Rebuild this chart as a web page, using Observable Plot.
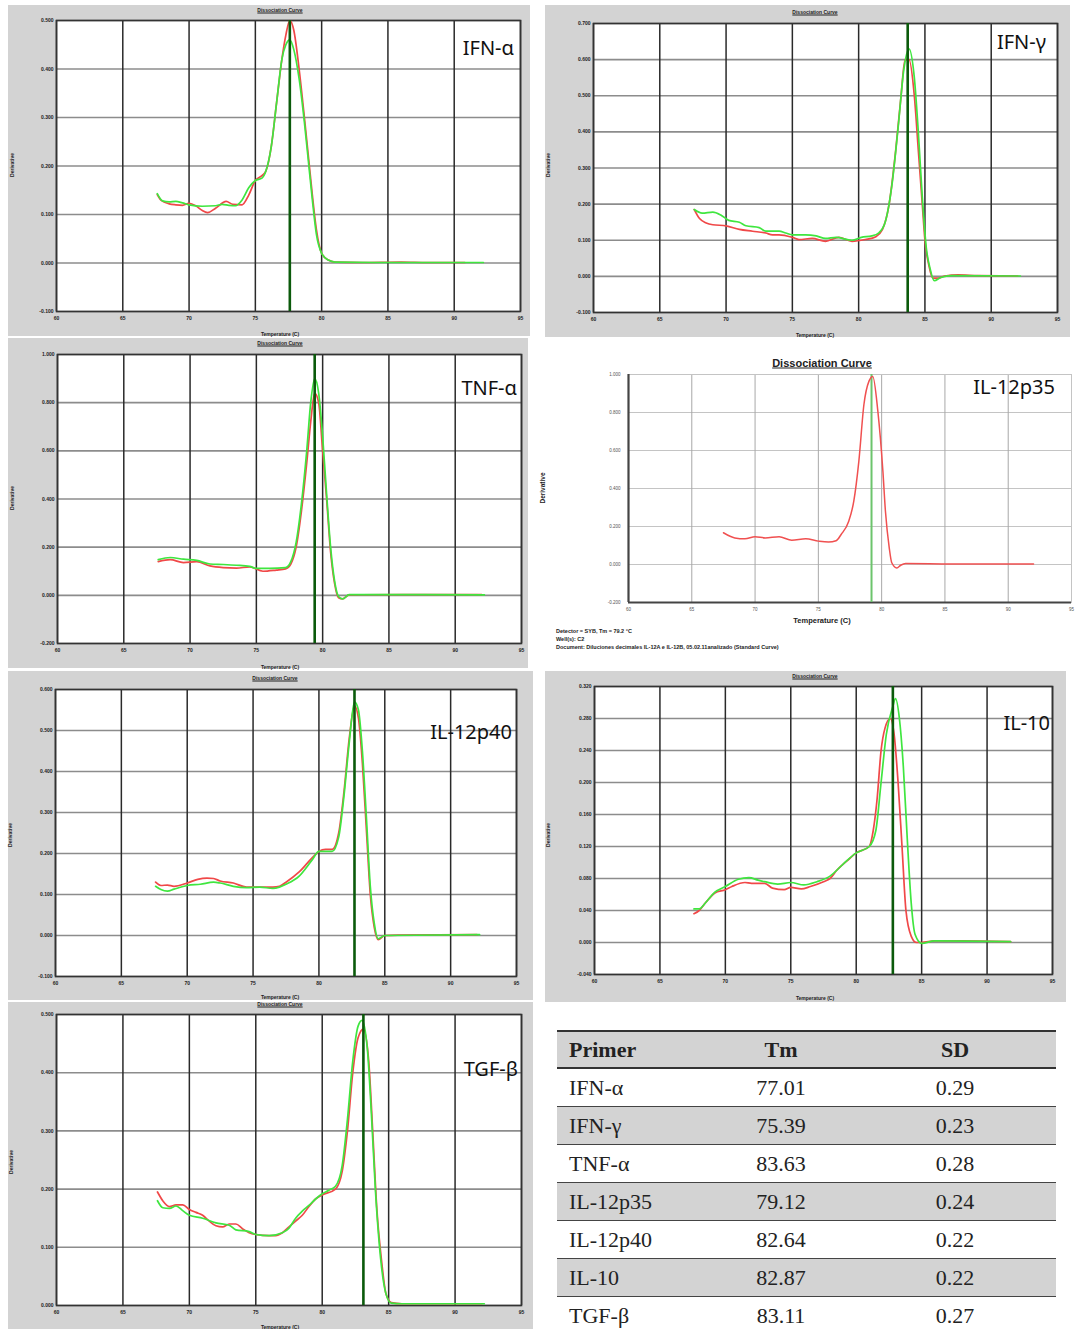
<!DOCTYPE html>
<html>
<head>
<meta charset="utf-8">
<script src="https://cdn.jsdelivr.net/npm/d3@7"></script>
<script src="https://cdn.jsdelivr.net/npm/@observablehq/plot@0.6"></script>
<style>
  html, body { margin: 0; padding: 0; background: #fff; }
  #page { position: relative; width: 1076px; height: 1329px; overflow: hidden; background: #fff; font-family: "Liberation Sans", Arial, sans-serif; }
  .box { position: absolute; }
  .grey { background: #d3d3d3; }
  .t { position: absolute; white-space: nowrap; line-height: 1; }
  .small { font-size: 5px; font-weight: bold; color: #222; }
  .lbl { font-family: "Noto Sans", sans-serif; font-size: 20px; color: #111; }
  table { position: absolute; left: 557px; top: 1030px; width: 499px; border-collapse: collapse; font-family: "Liberation Serif", "Times New Roman", serif; font-size: 22px; color: #222; }
  td { height: 37px; padding: 0; }
  th { height: 35px; padding: 0; font-weight: bold; }
</style>
</head>
<body>
<div id="page"></div>
<script>
// ---------- data ----------
const xTicks = [60, 65, 70, 75, 80, 85, 90, 95];

const ifnaRed = [[67.6,0.141],[67.9,0.129],[68.5,0.122],[69,0.120],[69.5,0.119],[70,0.123],[70.5,0.118],[71,0.108],[71.4,0.104],[72,0.113],[72.8,0.127],[73.3,0.121],[74,0.120],[74.5,0.140],[75,0.170],[75.5,0.180],[75.8,0.190],[76.2,0.240],[76.6,0.330],[77,0.420],[77.3,0.470],[77.6,0.500],[77.9,0.480],[78.3,0.400],[78.7,0.300],[79,0.220],[79.3,0.140],[79.6,0.070],[80,0.020],[80.5,0.006],[81,0.002],[83,0.001],[86,0.002],[88,0.001],[90.8,0.001]];
const ifnaGreen = [[67.6,0.143],[68,0.128],[68.5,0.126],[69,0.127],[69.5,0.124],[70,0.120],[71,0.117],[72,0.118],[72.5,0.121],[73,0.119],[73.5,0.118],[74,0.130],[74.5,0.155],[75,0.170],[75.5,0.175],[75.8,0.190],[76.2,0.240],[76.6,0.330],[77,0.420],[77.3,0.450],[77.6,0.460],[77.9,0.440],[78.3,0.380],[78.7,0.290],[79,0.210],[79.3,0.130],[79.6,0.060],[80,0.020],[80.5,0.006],[81,0.002],[85,0.001],[92.2,0.001]];
const ifnaTicks = [-0.1, 0, 0.1, 0.2, 0.3, 0.4, 0.5];

const ifngRed = [[67.6,0.185],[68,0.160],[68.5,0.148],[69,0.143],[70,0.140],[71,0.130],[72,0.125],[73,0.120],[73.5,0.115],[74,0.115],[75,0.108],[75.5,0.102],[76.5,0.105],[77.5,0.097],[78.5,0.108],[79.5,0.097],[80.5,0.102],[81.3,0.110],[81.8,0.130],[82.3,0.200],[82.8,0.350],[83.2,0.500],[83.5,0.600],[83.8,0.600],[84.2,0.500],[84.5,0.350],[84.8,0.200],[85,0.100],[85.3,0.030],[85.6,-0.005],[86,-0.005],[86.5,0.001],[87.5,0.004],[89,0.002],[92,0.001]];
const ifngGreen = [[67.6,0.185],[68.2,0.175],[69,0.178],[69.6,0.170],[70.2,0.155],[71,0.150],[71.5,0.140],[72.5,0.135],[73,0.125],[74,0.125],[74.5,0.120],[75,0.115],[76,0.115],[76.8,0.112],[77.5,0.105],[78.3,0.108],[79.5,0.100],[80.2,0.108],[81,0.112],[81.5,0.120],[82,0.150],[82.5,0.250],[83,0.420],[83.4,0.570],[83.8,0.630],[84.2,0.550],[84.5,0.400],[84.8,0.220],[85.1,0.080],[85.4,0.020],[85.7,-0.012],[86.2,-0.003],[87,0.002],[92.2,0.001]];
const ifngTicks = [-0.1, 0, 0.1, 0.2, 0.3, 0.4, 0.5, 0.6, 0.7];

const tnfRed = [[67.6,0.140],[68.5,0.148],[69.5,0.136],[70.5,0.140],[71.5,0.122],[72.5,0.115],[73.5,0.113],[74.5,0.118],[75.5,0.100],[76.5,0.105],[77.2,0.110],[77.6,0.130],[78,0.200],[78.4,0.350],[78.8,0.550],[79.1,0.720],[79.4,0.840],[79.7,0.800],[80,0.600],[80.3,0.400],[80.6,0.180],[80.9,0.050],[81.2,-0.010],[81.5,-0.015],[82,0.002],[86,0.003],[92,0.003]];
const tnfGreen = [[67.6,0.148],[68.5,0.157],[69.5,0.150],[70.5,0.145],[71.5,0.130],[72.5,0.128],[73.5,0.125],[74.5,0.120],[75,0.112],[76,0.112],[77.2,0.115],[77.6,0.140],[78,0.220],[78.4,0.380],[78.8,0.600],[79.1,0.800],[79.4,0.900],[79.7,0.840],[80,0.660],[80.3,0.420],[80.6,0.200],[80.9,0.060],[81.2,-0.005],[81.5,-0.015],[82,0.003],[92.2,0.002]];
const tnfTicks = [-0.2, 0, 0.2, 0.4, 0.6, 0.8, 1.0];

const il35Red = [[67.5,0.167],[68.4,0.140],[69.2,0.135],[70,0.146],[70.8,0.140],[71.9,0.146],[72.9,0.128],[74,0.135],[75,0.123],[75.8,0.118],[76.4,0.125],[76.8,0.158],[77.4,0.228],[77.8,0.333],[78.2,0.544],[78.6,0.842],[79,0.965],[79.3,0.990],[79.7,0.807],[80.1,0.490],[80.3,0.280],[80.6,0.088],[80.8,0.009],[81.2,-0.018],[81.5,-0.004],[81.9,0.005],[85,0.003],[88,0.002],[92,0.002]];
const il35Ticks = [-0.2, 0, 0.2, 0.4, 0.6, 0.8, 1.0];

const il40Red = [[67.6,0.130],[68,0.122],[68.5,0.123],[69,0.120],[70,0.128],[70.8,0.137],[71.5,0.140],[72,0.139],[72.5,0.133],[73.5,0.128],[74.5,0.118],[75.5,0.118],[76.5,0.118],[77,0.120],[77.5,0.130],[78.5,0.155],[79.5,0.190],[80,0.205],[80.5,0.210],[81,0.210],[81.5,0.250],[81.9,0.350],[82.3,0.480],[82.7,0.560],[83,0.530],[83.3,0.420],[83.6,0.260],[83.9,0.100],[84.2,0.020],[84.5,-0.010],[85,0.000],[86,0.001],[92,0.002]];
const il40Green = [[67.6,0.120],[68,0.112],[68.5,0.108],[69,0.113],[70,0.122],[71,0.125],[72,0.130],[72.5,0.128],[73.5,0.120],[74.5,0.117],[75.5,0.118],[76.5,0.115],[77,0.118],[77.5,0.125],[78.5,0.145],[79.5,0.185],[80,0.205],[80.5,0.205],[81,0.205],[81.5,0.240],[81.9,0.340],[82.3,0.470],[82.7,0.570],[83,0.550],[83.3,0.450],[83.6,0.290],[83.9,0.120],[84.2,0.030],[84.5,-0.008],[85,0.000],[92.2,0.002]];
const il40Ticks = [-0.1, 0, 0.1, 0.2, 0.3, 0.4, 0.5, 0.6];

const il10Red = [[67.6,0.036],[68,0.040],[68.5,0.050],[69.2,0.062],[70,0.066],[70.5,0.070],[71.5,0.075],[72,0.074],[73,0.074],[73.6,0.068],[74.5,0.066],[75,0.069],[75.8,0.067],[76.5,0.070],[77.5,0.076],[78,0.080],[78.5,0.090],[79.5,0.105],[80,0.112],[81,0.120],[81.3,0.140],[81.6,0.180],[81.9,0.240],[82.2,0.268],[82.6,0.280],[82.9,0.260],[83.2,0.200],[83.5,0.120],[83.8,0.040],[84.2,0.008],[84.6,0.000],[85,0.000],[86,0.002],[88,0.002],[91.8,0.001]];
const il10Green = [[67.6,0.042],[68,0.042],[68.5,0.050],[69.2,0.063],[70,0.070],[71,0.079],[71.8,0.081],[72.5,0.078],[73,0.076],[74,0.073],[75,0.075],[76,0.072],[77,0.076],[78,0.083],[79,0.098],[80,0.112],[81,0.120],[81.5,0.140],[81.9,0.200],[82.3,0.260],[82.8,0.295],[83,0.305],[83.3,0.280],[83.6,0.220],[83.9,0.130],[84.2,0.050],[84.5,0.010],[85,-0.001],[86,0.002],[91.8,0.001]];
const il10Ticks = [-0.04, 0, 0.04, 0.08, 0.12, 0.16, 0.20, 0.24, 0.28, 0.32];

const tgfRed = [[67.6,0.195],[68,0.180],[68.5,0.170],[69,0.173],[69.5,0.173],[70,0.165],[70.5,0.160],[71,0.155],[71.5,0.145],[72,0.137],[72.5,0.135],[73,0.140],[73.5,0.140],[74,0.132],[74.5,0.125],[75,0.122],[76,0.120],[76.5,0.120],[77,0.125],[77.5,0.135],[78,0.145],[78.5,0.155],[79,0.170],[79.5,0.183],[80,0.190],[81,0.200],[81.5,0.230],[81.9,0.300],[82.3,0.400],[82.7,0.460],[83.1,0.475],[83.5,0.420],[83.8,0.300],[84.1,0.170],[84.5,0.070],[84.8,0.020],[85.2,0.005],[86,0.003],[92,0.003]];
const tgfGreen = [[67.6,0.180],[68,0.168],[68.5,0.167],[69,0.171],[69.5,0.163],[70,0.155],[71,0.150],[72,0.142],[73,0.138],[73.5,0.130],[74.5,0.127],[75,0.122],[76,0.120],[77,0.125],[77.5,0.133],[78,0.150],[78.5,0.162],[79,0.172],[79.5,0.183],[80,0.192],[80.5,0.198],[81,0.205],[81.5,0.240],[81.9,0.320],[82.3,0.420],[82.7,0.480],[83,0.490],[83.4,0.440],[83.7,0.330],[84,0.200],[84.4,0.080],[84.8,0.020],[85.2,0.004],[86,0.003],[92.2,0.003]];
const tgfTicks = [0, 0.1, 0.2, 0.3, 0.4, 0.5];

const primers = ["IFN-α", "IFN-γ", "TNF-α", "IL-12p35", "IL-12p40", "IL-10", "TGF-β"];
const tmValues = ["77.01", "75.39", "83.63", "79.12", "82.64", "82.87", "83.11"];
const sdValues = ["0.29", "0.23", "0.28", "0.24", "0.22", "0.22", "0.27"];

// ---------- layout ----------
const panels = [
  { name: "IFN-α", red: ifnaRed, green: ifnaGreen, tm: 77.6, ticks: ifnaTicks,
    box: [8, 5, 530, 336], plot: [56, 520, 20, 311], labelRight: 514, labelY: 48,
    title: [280, 10], temp: [280, 334], deriv: [12, 165] },
  { name: "IFN-γ", red: ifngRed, green: ifngGreen, tm: 83.7, ticks: ifngTicks,
    box: [545, 5, 1070, 337], plot: [593, 1057, 23, 312], labelRight: 1046, labelY: 42,
    title: [815, 12], temp: [815, 335], deriv: [548, 165] },
  { name: "TNF-α", red: tnfRed, green: tnfGreen, tm: 79.4, ticks: tnfTicks,
    box: [8, 338, 528, 668], plot: [57, 521, 354, 643], labelRight: 517, labelY: 388,
    title: [280, 343], temp: [280, 667], deriv: [12, 498] },
  { name: "IL-12p35", red: il35Red, green: null, tm: 79.2, ticks: il35Ticks, light: true,
    box: [545, 352, 1076, 652], plot: [628, 1071, 374, 602], labelRight: 1055, labelY: 387,
    title: [822, 363], temp: [822, 621], deriv: [543, 488] },
  { name: "IL-12p40", red: il40Red, green: il40Green, tm: 82.7, ticks: il40Ticks,
    box: [8, 671, 533, 1000], plot: [55, 516, 689, 976], labelRight: 512, labelY: 732,
    title: [275, 678], temp: [280, 997], deriv: [10, 835] },
  { name: "IL-10", red: il10Red, green: il10Green, tm: 82.8, ticks: il10Ticks,
    box: [545, 671, 1066, 1002], plot: [594, 1052, 686, 974], labelRight: 1050, labelY: 723,
    title: [815, 676], temp: [815, 998], deriv: [548, 835] },
  { name: "TGF-β", red: tgfRed, green: tgfGreen, tm: 83.1, ticks: tgfTicks,
    box: [8, 1002, 533, 1329], plot: [56, 521, 1014, 1305], labelRight: 518, labelY: 1069,
    title: [280, 1004], temp: [280, 1327], deriv: [11, 1162] }
];

const page = document.getElementById("page");

function addText(txt, x, y, cls, extra) {
  const d = document.createElement("div");
  d.className = "t " + cls;
  d.textContent = txt;
  d.style.left = x + "px";
  d.style.top = y + "px";
  d.style.transform = "translate(-50%,-50%)" + (extra && extra.rotate ? " rotate(-90deg)" : "");
  if (extra && extra.style) Object.assign(d.style, extra.style);
  page.appendChild(d);
  return d;
}

for (const p of panels) {
  const [bx0, by0, bx1, by1] = p.box;
  const [px0, px1, py0, py1] = p.plot;
  const div = document.createElement("div");
  div.className = "box" + (p.light ? "" : " grey");
  div.style.left = bx0 + "px";
  div.style.top = by0 + "px";
  div.style.width = (bx1 - bx0) + "px";
  div.style.height = (by1 - by0) + "px";
  page.appendChild(div);

  const fmt = d => d.toFixed(3);
  const yDomain = [p.ticks[0], p.ticks[p.ticks.length - 1]];
  const lineW = 1.7;
  let marks;
  if (!p.light) {
    marks = [
      Plot.frame({ fill: "white" }),
      Plot.gridY(p.ticks, { stroke: "#8c8c8c", strokeOpacity: 1, strokeWidth: 1.6 }),
      Plot.gridX(xTicks, { stroke: "#2a2a2a", strokeOpacity: 1, strokeWidth: 1.5 }),
      Plot.frame({ stroke: "#333", strokeWidth: 1.6 }),
      Plot.axisX(xTicks, { tickSize: 0, tickPadding: 5, label: null, fontSize: 5, fontWeight: "bold" }),
      Plot.axisY(p.ticks, { tickSize: 0, tickPadding: 3, label: null, tickFormat: fmt, fontSize: 5, fontWeight: "bold" }),
      Plot.line(p.red, { x: d => d[0], y: d => d[1], stroke: "#f04848", strokeWidth: lineW, curve: "monotone-x" }),
      Plot.line(p.green, { x: d => d[0], y: d => d[1], stroke: "#3fe63f", strokeWidth: lineW, curve: "monotone-x" }),
      Plot.ruleX([p.tm], { stroke: "#0b5a0b", strokeWidth: 2.6 })
    ];
  } else {
    marks = [
      Plot.frame({ fill: "white" }),
      Plot.gridY(p.ticks, { stroke: "#c4c4c4", strokeOpacity: 1, strokeWidth: 1 }),
      Plot.gridX(xTicks, { stroke: "#a8a8a8", strokeOpacity: 1, strokeWidth: 1 }),
      Plot.frame({ stroke: "#c4c4c4", strokeWidth: 1 }),
      Plot.ruleX([60], { stroke: "#444", strokeWidth: 2.2 }),
      Plot.ruleY([p.ticks[0]], { stroke: "#444", strokeWidth: 2.2 }),
      Plot.axisX(xTicks, { tickSize: 0, tickPadding: 5, label: null, fontSize: 4.5, fill: "#555" }),
      Plot.axisY(p.ticks, { tickSize: 0, tickPadding: 8, label: null, tickFormat: fmt, fontSize: 4.5, fill: "#555" }),
      Plot.ruleX([p.tm], { stroke: "#6cc46c", strokeWidth: 2 }),
      Plot.line(p.red, { x: d => d[0], y: d => d[1], stroke: "#f05050", strokeWidth: 1.5, curve: "monotone-x" })
    ];
  }

  const chart = Plot.plot({
    width: bx1 - bx0,
    height: by1 - by0,
    marginLeft: px0 - bx0,
    marginRight: bx1 - px1,
    marginTop: py0 - by0,
    marginBottom: by1 - py1,
    x: { domain: [60, 95] },
    y: { domain: yDomain },
    style: { background: "transparent", fontFamily: "Liberation Sans, Arial, sans-serif", color: "#222", overflow: "visible" },
    marks
  });
  chart.style.position = "absolute";
  chart.style.left = "0px";
  chart.style.top = "0px";
  div.appendChild(chart);

  // texts
  if (p.light) {
    addText("Dissociation Curve", p.title[0], p.title[1], "", { style: { fontSize: "11px", fontWeight: "bold", textDecoration: "underline", color: "#222" } });
    addText("Temperature (C)", p.temp[0], p.temp[1], "", { style: { fontSize: "7.5px", fontWeight: "bold", color: "#222" } });
    addText("Derivative", p.deriv[0], p.deriv[1], "", { rotate: true, style: { fontSize: "6.5px", fontWeight: "bold", color: "#222" } });
  } else {
    addText("Dissociation Curve", p.title[0], p.title[1], "small", { style: { textDecoration: "underline" } });
    addText("Temperature (C)", p.temp[0], p.temp[1], "small");
    addText("Derivative", p.deriv[0], p.deriv[1], "small", { rotate: true });
  }
  const lab = document.createElement("div");
  lab.className = "t lbl";
  lab.textContent = p.name;
  lab.style.right = (1076 - p.labelRight) + "px";
  lab.style.top = p.labelY + "px";
  lab.style.transform = "translateY(-50%)";
  page.appendChild(lab);
}

// caption under IL-12p35
const capLines = ["Detector = SYB, Tm = 79.2 °C", "Well(s): C2", "Document: Diluciones decimales IL-12A e IL-12B, 05.02.11analizado (Standard Curve)"];
capLines.forEach((s, i) => {
  const d = document.createElement("div");
  d.className = "t";
  d.textContent = s;
  Object.assign(d.style, { left: "556px", top: (629 + i * 8) + "px", fontSize: "5.5px", fontWeight: "bold", color: "#222" });
  page.appendChild(d);
});

// table
const tbl = document.createElement("table");
const colW = [143, 162, 194];
let html = "<colgroup>" + colW.map(w => `<col style="width:${w}px">`).join("") + "</colgroup>";
html += `<tr style="background:#d3d3d3;border-top:2px solid #333;border-bottom:2px solid #333">
  <th style="text-align:left;padding-left:12px">Primer</th><th style="text-align:center">Tm</th><th style="text-align:center;padding-right:8px">SD</th></tr>`;
primers.forEach((pr, i) => {
  const bg = i % 2 === 1 ? "#d3d3d3" : "#fff";
  const bb = i < primers.length - 1 ? "border-bottom:1.5px solid #444;" : "";
  html += `<tr style="background:${bg};${bb}"><td style="padding-left:12px">${pr}</td><td style="text-align:center">${tmValues[i]}</td><td style="text-align:center;padding-right:8px">${sdValues[i]}</td></tr>`;
});
tbl.innerHTML = html;
page.appendChild(tbl);
</script>
</body>
</html>
